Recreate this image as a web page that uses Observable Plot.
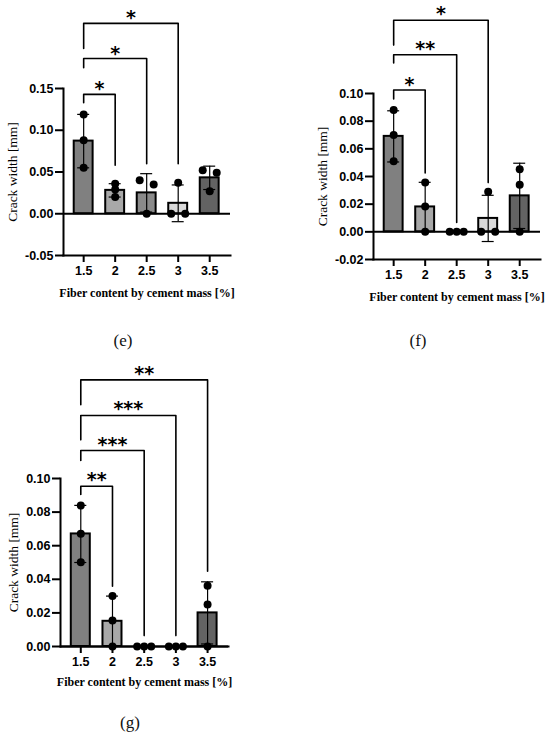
<!DOCTYPE html>
<html><head><meta charset="utf-8">
<script src="https://cdn.jsdelivr.net/npm/d3@7"></script>
<script src="https://cdn.jsdelivr.net/npm/@observablehq/plot@0.6"></script>
<style>
body{margin:0;background:#fff;}
#fig{position:relative;width:550px;height:738px;overflow:hidden;background:#fff;}
.panel{position:absolute;}
.panel svg{overflow:visible;}
.cap{position:absolute;font-family:"Liberation Serif",serif;font-size:17px;transform:translate(-50%,-50%);color:#111;white-space:nowrap;}
</style></head><body><div id="fig"></div>
<script>
const categories = ["1.5","2","2.5","3","3.5"];
const xTitle = "Fiber content by cement mass [%]";
const yTitle = "Crack width [mm]";
const panelLabels = ["(e)","(f)","(g)"];

// Panel (e)
const eMean = [0.087, 0.028, 0.025, 0.0125, 0.043];
const eSD = [0.032, 0.008, 0.023, 0.022, 0.014];
const ePoints = [[0.119,0.088,0.055],[0.036,0.029,0.020],[0.040,0.0,0.035],[0.0,0.037,0.0],[0.052,0.027,0.049]];
const eSide = [[0,0,0],[0,0,0],[-1,0,1],[-1,0,1],[-1,0,1]];
const eYTicks = [-0.05, 0, 0.05, 0.10, 0.15];
const eBrTo = [1, 2, 3];
const eBrLevel = [0.143, 0.186, 0.228];
const eBrLeft = [0.133, 0.175, 0.198];
const eBrRight = [0.058, 0.060, 0.060];
const eBrLabel = ["*", "*", "*"];
const eBrLabelY = [0.156, 0.198, 0.241];

// Panel (f)
const fMean = [0.069, 0.018, 0.0, 0.0097, 0.026];
const fSD = [0.0185, 0.0178, 0.0, 0.0167, 0.0236];
const fPoints = [[0.088,0.070,0.051],[0.0356,0.0183,0.0],[0.0,0.0,0.0],[0.0,0.029,0.0],[0.0453,0.034,0.0]];
const fSide = [[0,0,0],[0,0,0],[-1,0,1],[-1,0,1],[0,0,0]];
const fYTicks = [-0.02, 0, 0.02, 0.04, 0.06, 0.08, 0.10];
const fBrTo = [1, 2, 3];
const fBrLevel = [0.1025, 0.128, 0.153];
const fBrLeft = [0.096, 0.122, 0.135];
const fBrRight = [0.0425, 0.0067, 0.0356];
const fBrLabel = ["*", "**", "*"];
const fBrLabelY = [0.110, 0.136, 0.161];

// Panel (g)
const gMean = [0.067, 0.015, 0.0, 0.0, 0.020];
const gSD = [0.017, 0.015, 0.0, 0.0, 0.0185];
const gPoints = [[0.0839,0.0671,0.0502],[0.030,0.0155,0.0],[0.0,0.0,0.0],[0.0,0.0,0.0],[0.0361,0.025,0.0]];
const gSide = [[0,0,0],[0,0,0],[-1,0,1],[-1,0,1],[0,0,0]];
const gYTicks = [0, 0.02, 0.04, 0.06, 0.08, 0.10];
const gBrTo = [1, 2, 3, 4];
const gBrLevel = [0.0954, 0.1167, 0.1375, 0.1587];
const gBrLeft = [0.0905, 0.1107, 0.123, 0.1439];
const gBrRight = [0.0359, 0.0065, 0.0065, 0.0448];
const gBrLabel = ["**", "***", "***", "**"];
const gBrLabelY = [0.1024, 0.1232, 0.1445, 0.1653];

const barFill = ["#808080", "#a8a8a8", "#8a8a8a", "#d9d9d9", "#636363"];
const tickFont = {fontFamily: "Liberation Sans", fontSize: 12.5, fontWeight: "bold", fill: "black"};

function makePanel(o) {
  const bars = categories.map((c, i) => ({i, mean: o.mean[i], sd: o.sd[i]}));
  const errs = bars.filter(d => d.sd > 0);
  const dots = o.points.flatMap((vals, i) => vals.map((v, k) => ({i, v, s: o.side[i][k]})));
  const lines = o.brTo.flatMap((t, k) => [
    {k, x: 0, y: o.brLeft[k]}, {k, x: 0, y: o.brLevel[k]},
    {k, x: t, y: o.brLevel[k]}, {k, x: t, y: o.brRight[k]}]);
  const labels = o.brTo.map((t, k) => ({x: t / 2, y: o.brLabelY[k], text: o.brLabel[k]}));
  return Plot.plot({
    width: o.width, height: o.height,
    marginLeft: o.ml, marginRight: o.mr, marginTop: o.mt, marginBottom: o.mb,
    x: {domain: [-0.64, 4.66], axis: null},
    y: {domain: o.yDomain, axis: null},
    style: {background: "transparent", overflow: "visible", color: "black"},
    marks: [
      Plot.frame({anchor: "left", strokeWidth: 2}),
      Plot.frame({anchor: "bottom", strokeWidth: 2}),
      Plot.axisY({ticks: o.yTicks, tickFormat: d => d.toFixed(2), tickSize: 8, tickPadding: 2, strokeWidth: 2, label: null, ...tickFont}),
      Plot.axisX({ticks: [0,1,2,3,4], tickFormat: i => categories[i], tickSize: 7, tickPadding: 4, strokeWidth: 2, label: null, ...tickFont}),
      Plot.rectY(bars, {x1: d => d.i - 0.3, x2: d => d.i + 0.3, y1: 0, y2: "mean", fill: d => barFill[d.i], stroke: "black", strokeWidth: 2}),
      Plot.ruleY([0], {strokeWidth: 2}),
      Plot.ruleX(errs, {x: "i", y1: d => d.mean - d.sd, y2: d => d.mean + d.sd, strokeWidth: 1.2}),
      Plot.ruleY(errs, {y: d => d.mean + d.sd, x1: d => d.i - 0.19, x2: d => d.i + 0.19, strokeWidth: 1.2}),
      Plot.ruleY(errs, {y: d => d.mean - d.sd, x1: d => d.i - 0.19, x2: d => d.i + 0.19, strokeWidth: 1.2}),
      Plot.dot(dots, {x: d => d.i + d.s * 0.222, y: "v", r: 4, fill: "black"}),
      Plot.line(lines, {x: "x", y: "y", z: "k", strokeWidth: 1.6, stroke: "black"}),
      Plot.text(labels, {x: "x", y: "y", text: "text", fontSize: 19, fontWeight: "bold", fontFamily: "DejaVu Sans", lineAnchor: "middle", dy: 5}),
      Plot.text([xTitle], {text: d => d, frameAnchor: "bottom", dy: o.xtDy, textAnchor: "middle", lineAnchor: "middle", fontFamily: "Liberation Serif", fontWeight: "bold", fontSize: 12}),
      Plot.text([yTitle], {text: d => d, frameAnchor: "left", dx: o.ytDx, rotate: -90, textAnchor: "middle", lineAnchor: "middle", fontFamily: "Liberation Serif", fontWeight: "normal", fontSize: 13.5})
    ]
  });
}

const fig = document.getElementById("fig");
function place(node, left, top) {
  const div = document.createElement("div");
  div.className = "panel";
  div.style.left = left + "px";
  div.style.top = top + "px";
  div.appendChild(node);
  fig.appendChild(div);
}

place(makePanel({mean: eMean, sd: eSD, points: ePoints, side: eSide, yTicks: eYTicks, yDomain: [-0.05, 0.15],
  brTo: eBrTo, brLevel: eBrLevel, brLeft: eBrLeft, brRight: eBrRight, brLabel: eBrLabel, brLabelY: eBrLabelY,
  width: 275, height: 310, ml: 63, mr: 45, mt: 88, mb: 55, xtDy: 38, ytDx: -51}), 0, 0);

place(makePanel({mean: fMean, sd: fSD, points: fPoints, side: fSide, yTicks: fYTicks, yDomain: [-0.02, 0.10],
  brTo: fBrTo, brLevel: fBrLevel, brLeft: fBrLeft, brRight: fBrRight, brLabel: fBrLabel, brLabelY: fBrLabelY,
  width: 275, height: 310, ml: 98, mr: 10, mt: 93, mb: 51, xtDy: 38, ytDx: -51}), 275, 0);

place(makePanel({mean: gMean, sd: gSD, points: gPoints, side: gSide, yTicks: gYTicks, yDomain: [0, 0.10],
  brTo: gBrTo, brLevel: gBrLevel, brLeft: gBrLeft, brRight: gBrRight, brLabel: gBrLabel, brLabelY: gBrLabelY,
  width: 275, height: 345, ml: 60, mr: 47, mt: 128, mb: 49, xtDy: 36, ytDx: -47}), 0, 350);

const capPos = [[123, 341], [418, 341], [130, 723]];
panelLabels.forEach((t, k) => {
  const d = document.createElement("div");
  d.className = "cap";
  d.style.left = capPos[k][0] + "px";
  d.style.top = capPos[k][1] + "px";
  d.textContent = t;
  fig.appendChild(d);
});
</script></body></html>
